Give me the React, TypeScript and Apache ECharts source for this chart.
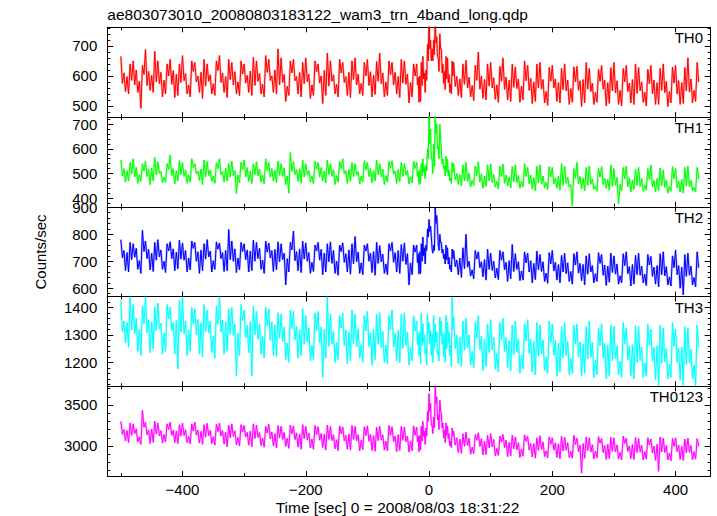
import { useEffect, useRef } from "react";
import * as echarts from "echarts";

// Bin start times (s). 10 s bins, 5 s bins around the burst.
const times = [
  -500, -490, -480, -470, -460, -450, -440, -430, -420, -410,
  -400, -390, -380, -370, -360, -350, -340, -330, -320, -310,
  -300, -290, -280, -270, -260, -250, -240, -230, -220, -210,
  -200, -190, -180, -170, -160, -150, -140, -130, -120, -110,
  -100, -90, -80, -70, -60, -50, -40, -30,
  -20, -15, -10, -5, 0, 5, 10, 15, 20, 25, 30, 35,
  40, 50, 60, 70, 80, 90, 100, 110, 120, 130,
  140, 150, 160, 170, 180, 190, 200, 210, 220, 230,
  240, 250, 260, 270, 280, 290, 300, 310, 320, 330,
  340, 350, 360, 370, 380, 390, 400, 410, 420, 430,
];

// Per-bin values of each light curve (counts/sec):
// Hi / Lo = extremes reached in the bin, Up / Dn = upper and lower edge of the dense core.
const th0Hi = [
  665, 640, 650, 635, 688, 682, 650, 640, 655, 640,
  668, 650, 645, 655, 640, 650, 668, 655, 645, 650,
  640, 662, 650, 668, 655, 690, 660, 650, 655, 645,
  660, 650, 640, 676, 650, 655, 645, 650, 660, 645,
  655, 648, 676, 650, 645, 655, 650, 640,
  640, 645, 665, 705, 800, 720, 800, 740, 690, 665, 660, 650,
  645, 640, 652, 635, 680, 640, 645, 632, 660, 640,
  630, 650, 635, 640, 645, 628, 635, 625, 640, 630,
  632, 645, 625, 622, 635, 628, 645, 625, 635, 640,
  628, 622, 635, 625, 640, 630, 635, 628, 660, 645,
];
const th0Lo = [
  548, 540, 545, 492, 552, 545, 530, 540, 528, 535,
  540, 530, 545, 525, 540, 535, 545, 528, 540, 535,
  545, 535, 540, 530, 545, 540, 515, 535, 540, 530,
  525, 535, 508, 535, 540, 530, 535, 528, 540, 535,
  530, 538, 530, 535, 540, 528, 510, 530,
  512, 515, 545, 585, 650, 650, 665, 615, 575, 555, 545, 540,
  535, 528, 530, 518, 525, 520, 522, 512, 520, 515,
  512, 520, 508, 515, 510, 502, 515, 510, 505, 512,
  498, 510, 505, 512, 500, 508, 505, 500, 510, 505,
  512, 500, 505, 505, 498, 510, 505, 508, 510, 515,
];
const th0Up = [
  610, 598, 620, 605, 615, 602, 612, 600, 618, 606,
  608, 615, 600, 612, 604, 618, 610, 598, 614, 606,
  602, 616, 608, 612, 600, 620, 605, 610, 598, 612,
  606, 614, 600, 618, 604, 610, 598, 612, 606, 600,
  614, 602, 610, 604, 612, 598, 606, 600,
  595, 600, 610, 650, 720, 690, 730, 690, 640, 615, 605, 600,
  598, 590, 596, 585, 600, 588, 594, 582, 596, 586,
  590, 584, 592, 580, 588, 582, 590, 578, 586, 580,
  584, 588, 576, 582, 586, 578, 584, 580, 576, 588,
  580, 574, 586, 578, 582, 576, 584, 578, 590, 580,
];
const th0Dn = [
  575, 585, 570, 582, 568, 580, 574, 586, 572, 578,
  584, 570, 580, 566, 582, 574, 578, 588, 570, 580,
  576, 568, 582, 572, 585, 570, 578, 566, 584, 574,
  580, 570, 576, 566, 582, 572, 578, 588, 570, 575,
  568, 582, 574, 580, 570, 576, 572, 578,
  570, 568, 590, 620, 690, 670, 710, 660, 610, 590, 578, 572,
  565, 572, 560, 568, 556, 566, 560, 570, 555, 562,
  558, 566, 552, 560, 556, 548, 560, 554, 550, 558,
  552, 556, 548, 545, 556, 550, 544, 552, 548, 542,
  550, 546, 540, 552, 544, 548, 540, 550, 546, 552,
];

const th1Hi = [
  555, 545, 560, 540, 550, 565, 548, 540, 575, 552,
  545, 560, 540, 555, 548, 545, 560, 540, 550, 545,
  555, 540, 548, 560, 545, 550, 540, 585, 548, 555,
  540, 550, 545, 555, 540, 548, 560, 545, 540, 552,
  545, 555, 540, 548, 552, 545, 540, 550,
  545, 540, 560, 600, 740, 620, 745, 700, 600, 570, 560, 545,
  540, 535, 545, 530, 548, 535, 540, 530, 538, 528,
  535, 540, 525, 530, 535, 528, 525, 540, 530, 520,
  545, 525, 530, 520, 528, 535, 520, 525, 530, 518,
  525, 520, 535, 522, 515, 528, 520, 525, 530, 525,
];
const th1Lo = [
  465, 470, 460, 468, 455, 470, 462, 465, 458, 470,
  460, 465, 472, 455, 468, 460, 465, 470, 418, 462,
  468, 460, 465, 458, 470, 462, 455, 420, 468, 460,
  465, 458, 470, 462, 455, 465, 460, 468, 458, 465,
  462, 470, 455, 465, 460, 468, 458, 462,
  455, 460, 480, 510, 560, 500, 600, 560, 520, 490, 470, 460,
  455, 450, 445, 452, 440, 448, 445, 438, 450, 442,
  440, 445, 438, 430, 442, 435, 440, 432, 445, 370,
  438, 430, 435, 428, 440, 432, 378, 430, 425, 435,
  428, 432, 425, 430, 420, 428, 425, 420, 430, 425,
];
const th1Up = [
  520, 512, 525, 510, 518, 522, 508, 516, 520, 512,
  515, 524, 510, 518, 514, 520, 508, 522, 512, 516,
  524, 510, 518, 512, 520, 514, 522, 508, 516, 520,
  512, 518, 524, 510, 516, 520, 512, 518, 508, 514,
  520, 512, 518, 522, 510, 516, 512, 520,
  510, 515, 525, 560, 680, 560, 700, 640, 560, 530, 515, 505,
  500, 495, 502, 492, 498, 490, 496, 488, 494, 486,
  492, 488, 494, 484, 490, 486, 482, 490, 484, 480,
  488, 482, 478, 486, 480, 476, 484, 478, 482, 474,
  480, 476, 472, 480, 474, 478, 470, 476, 472, 478,
];
const th1Dn = [
  490, 498, 486, 495, 488, 494, 500, 485, 492, 496,
  488, 494, 498, 486, 492, 490, 496, 485, 490, 494,
  486, 496, 490, 494, 485, 492, 488, 490, 496, 486,
  494, 490, 485, 496, 488, 492, 498, 486, 494, 490,
  488, 495, 486, 492, 498, 488, 494, 486,
  488, 490, 505, 535, 620, 530, 660, 610, 540, 505, 490, 482,
  475, 470, 468, 472, 465, 470, 462, 468, 460, 466,
  462, 468, 458, 462, 456, 464, 458, 452, 460, 455,
  458, 452, 456, 450, 455, 448, 452, 456, 446, 452,
  448, 454, 445, 450, 444, 448, 442, 450, 446, 444,
];

const th2Hi = [
  780, 770, 765, 815, 775, 770, 780, 765, 772, 778,
  768, 775, 770, 765, 780, 772, 768, 818, 775, 770,
  765, 778, 770, 775, 768, 772, 765, 770, 812, 775,
  768, 760, 770, 765, 772, 760, 768, 765, 792, 760,
  765, 770, 758, 765, 770, 762, 768, 760,
  760, 765, 790, 820, 855, 760, 898, 800, 770, 760, 750, 745,
  740, 750, 800, 740, 735, 745, 730, 740, 735, 762,
  728, 735, 730, 738, 725, 732, 740, 722, 730, 728,
  735, 720, 728, 732, 725, 730, 720, 728, 735, 722,
  730, 725, 718, 728, 735, 720, 742, 725, 730, 735,
];
const th2Lo = [
  665, 660, 670, 655, 668, 662, 670, 658, 665, 672,
  660, 668, 655, 665, 660, 670, 662, 665, 658, 668,
  660, 665, 670, 655, 662, 668, 612, 660, 665, 658,
  655, 662, 650, 660, 655, 648, 660, 652, 655, 650,
  658, 648, 655, 650, 660, 655, 612, 650,
  652, 655, 690, 740, 790, 730, 820, 740, 710, 690, 670, 660,
  650, 640, 645, 635, 642, 630, 638, 632, 625, 635,
  628, 630, 620, 632, 625, 618, 630, 620, 625, 615,
  628, 612, 620, 625, 610, 622, 615, 620, 608, 615,
  620, 610, 615, 605, 612, 608, 600, 575, 612, 605,
];
const th2Up = [
  740, 732, 748, 736, 744, 730, 742, 738, 746, 734,
  740, 748, 735, 742, 738, 745, 732, 740, 746, 736,
  742, 738, 748, 734, 740, 744, 730, 742, 736, 746,
  732, 738, 744, 730, 740, 736, 728, 742, 734, 738,
  730, 736, 726, 738, 732, 740, 728, 734,
  728, 735, 750, 790, 830, 745, 870, 770, 745, 725, 715, 710,
  705, 712, 700, 708, 698, 706, 700, 704, 696, 702,
  698, 694, 702, 692, 698, 690, 696, 688, 694, 686,
  692, 688, 684, 692, 686, 682, 690, 684, 680, 688,
  682, 686, 678, 684, 680, 676, 684, 678, 682, 676,
];
const th2Dn = [
  712, 706, 715, 702, 710, 704, 716, 700, 710, 708,
  704, 712, 700, 708, 716, 702, 710, 706, 700, 712,
  706, 700, 710, 704, 712, 698, 706, 710, 702, 708,
  700, 696, 704, 698, 692, 700, 696, 690, 698, 694,
  700, 692, 698, 690, 696, 700, 688, 694,
  695, 700, 720, 760, 810, 740, 840, 760, 730, 705, 690, 685,
  680, 672, 678, 668, 676, 670, 666, 674, 668, 662,
  670, 664, 660, 668, 662, 656, 664, 660, 654, 662,
  656, 652, 660, 654, 648, 658, 652, 646, 654, 650,
  648, 652, 644, 650, 646, 642, 650, 644, 648, 640,
];

const th3Hi = [
  1425, 1438, 1410, 1405, 1438, 1400, 1415, 1410, 1400, 1425,
  1438, 1400, 1395, 1410, 1390, 1405, 1438, 1395, 1400, 1410,
  1390, 1405, 1385, 1400, 1395, 1380, 1375, 1390, 1385, 1395,
  1370, 1380, 1385, 1438, 1375, 1370, 1380, 1390, 1375, 1370,
  1385, 1375, 1380, 1370, 1390, 1375, 1380, 1370,
  1350, 1380, 1340, 1375, 1345, 1370, 1340, 1365, 1350, 1370, 1345, 1437,
  1365, 1350, 1360, 1345, 1370, 1340, 1355, 1345, 1360, 1335,
  1350, 1340, 1355, 1345, 1335, 1350, 1340, 1330, 1345, 1335,
  1340, 1330, 1350, 1325, 1340, 1335, 1330, 1345, 1325, 1335,
  1330, 1340, 1320, 1335, 1325, 1345, 1320, 1330, 1325, 1335,
];
const th3Lo = [
  1270, 1255, 1240, 1225, 1235, 1250, 1230, 1240, 1230, 1176,
  1225, 1240, 1230, 1220, 1235, 1215, 1230, 1240, 1150, 1225,
  1235, 1150, 1230, 1215, 1225, 1220, 1210, 1200, 1215, 1225,
  1205, 1210, 1145, 1215, 1200, 1210, 1195, 1205, 1215, 1200,
  1190, 1210, 1200, 1195, 1205, 1200, 1190, 1205,
  1225, 1195, 1230, 1190, 1225, 1200, 1230, 1205, 1220, 1200, 1225, 1185,
  1195, 1185, 1190, 1180, 1170, 1185, 1175, 1165, 1180, 1170,
  1160, 1175, 1165, 1155, 1170, 1160, 1150, 1165, 1155, 1160,
  1150, 1160, 1145, 1155, 1140, 1150, 1155, 1145, 1150, 1140,
  1145, 1150, 1135, 1116, 1140, 1145, 1135, 1116, 1140, 1116,
];
const th3Up = [
  1350, 1345, 1360, 1340, 1355, 1348, 1342, 1358, 1345, 1352,
  1350, 1340, 1356, 1344, 1350, 1338, 1354, 1346, 1340, 1352,
  1335, 1348, 1340, 1332, 1346, 1336, 1328, 1322, 1330, 1318,
  1325, 1316, 1328, 1320, 1312, 1324, 1318, 1310, 1322, 1314,
  1308, 1320, 1312, 1318, 1306, 1316, 1310, 1314,
  1305, 1312, 1300, 1308, 1316, 1302, 1310, 1298, 1306, 1300, 1310, 1320,
  1298, 1292, 1300, 1288, 1295, 1285, 1292, 1282, 1290, 1280,
  1286, 1278, 1284, 1276, 1282, 1272, 1280, 1270, 1276, 1268,
  1274, 1266, 1272, 1262, 1270, 1264, 1260, 1268, 1258, 1264,
  1256, 1262, 1254, 1260, 1250, 1258, 1252, 1256, 1248, 1254,
];
const th3Dn = [
  1312, 1318, 1305, 1320, 1308, 1315, 1322, 1306, 1316, 1310,
  1304, 1318, 1300, 1312, 1306, 1296, 1310, 1302, 1298, 1306,
  1290, 1300, 1284, 1294, 1280, 1288, 1276, 1270, 1282, 1266,
  1274, 1262, 1270, 1258, 1266, 1272, 1260, 1268, 1256, 1264,
  1258, 1266, 1254, 1262, 1256, 1250, 1260, 1254,
  1265, 1260, 1270, 1256, 1268, 1250, 1272, 1246, 1266, 1250, 1270, 1262,
  1250, 1244, 1252, 1240, 1246, 1236, 1244, 1232, 1240, 1228,
  1236, 1226, 1232, 1222, 1230, 1220, 1226, 1216, 1224, 1214,
  1220, 1212, 1218, 1208, 1216, 1206, 1212, 1204, 1210, 1200,
  1206, 1198, 1204, 1196, 1202, 1194, 1200, 1192, 1198, 1190,
];

const th0123Hi = [
  3300, 3280, 3270, 3436, 3290, 3300, 3280, 3270, 3290, 3260,
  3280, 3270, 3290, 3260, 3275, 3265, 3280, 3255, 3270, 3260,
  3250, 3270, 3255, 3240, 3265, 3250, 3240, 3255, 3245, 3260,
  3240, 3250, 3235, 3255, 3240, 3245, 3230, 3250, 3240, 3235,
  3245, 3230, 3240, 3250, 3235, 3240, 3230, 3245,
  3230, 3240, 3300, 3420, 3640, 3350, 3720, 3560, 3380, 3280, 3240, 3220,
  3180, 3150, 3170, 3140, 3160, 3130, 3150, 3120, 3140, 3130,
  3110, 3135, 3120, 3100, 3125, 3110, 3100, 3120, 3105, 3130,
  3095, 3110, 3100, 3115, 3090, 3105, 3100, 3120, 3095, 3105,
  3090, 3100, 3085, 3110, 3095, 3090, 3100, 3085, 3095, 3090,
];
const th0123Lo = [
  3060, 3040, 3050, 3020, 3030, 3045, 3035, 3050, 3040, 3030,
  3040, 3025, 3035, 3020, 3030, 3010, 3025, 2990, 3015, 3000,
  3010, 2990, 3005, 2985, 3000, 2975, 2995, 2970, 2985, 2960,
  2975, 2960, 2980, 2950, 2965, 2945, 2960, 2950, 2940, 2955,
  2945, 2935, 2950, 2940, 2930, 2945, 2925, 2940,
  2930, 2950, 3020, 3120, 3250, 3150, 3320, 3200, 3100, 3040, 3000, 2980,
  2920, 2910, 2900, 2905, 2890, 2895, 2880, 2885, 2870, 2880,
  2860, 2875, 2865, 2850, 2870, 2855, 2860, 2845, 2860, 2850,
  2668, 2850, 2840, 2855, 2835, 2845, 2840, 2830, 2845, 2835,
  2830, 2840, 2825, 2690, 2830, 2820, 2835, 2825, 2830, 2840,
];
const th0123Up = [
  3200, 3190, 3210, 3230, 3195, 3205, 3188, 3200, 3192, 3185,
  3198, 3182, 3194, 3178, 3190, 3176, 3188, 3170, 3184, 3172,
  3166, 3180, 3162, 3158, 3172, 3150, 3164, 3148, 3160, 3145,
  3156, 3140, 3152, 3144, 3136, 3150, 3130, 3146, 3138, 3128,
  3142, 3125, 3136, 3130, 3122, 3138, 3120, 3132,
  3120, 3130, 3180, 3300, 3520, 3260, 3600, 3440, 3280, 3190, 3150, 3120,
  3100, 3085, 3095, 3070, 3088, 3060, 3078, 3050, 3070, 3045,
  3040, 3058, 3030, 3028, 3050, 3020, 3035, 3025, 3040, 3018,
  3010, 3030, 3015, 3035, 3005, 3020, 3012, 3030, 3000, 3018,
  3008, 3015, 2998, 3020, 3005, 2995, 3010, 2995, 3005, 2998,
];
const th0123Dn = [
  3140, 3130, 3150, 3110, 3135, 3145, 3125, 3140, 3130, 3120,
  3128, 3115, 3132, 3108, 3124, 3112, 3120, 3100, 3116, 3105,
  3110, 3090, 3104, 3095, 3086, 3100, 3080, 3094, 3078, 3090,
  3072, 3085, 3070, 3080, 3066, 3075, 3062, 3078, 3064, 3070,
  3058, 3066, 3072, 3060, 3054, 3068, 3050, 3062,
  3050, 3060, 3120, 3220, 3420, 3220, 3520, 3380, 3220, 3130, 3090, 3060,
  3010, 2995, 3002, 2985, 2996, 2978, 2990, 2970, 2982, 2965,
  2955, 2962, 2950, 2945, 2958, 2940, 2950, 2938, 2948, 2935,
  2930, 2944, 2925, 2938, 2920, 2935, 2928, 2922, 2934, 2918,
  2926, 2932, 2915, 2928, 2920, 2912, 2930, 2915, 2922, 2930,
];

// Axis ticks / labels
const xMajorTicks = [-400, -200, 0, 200, 400];
const xMinorTicks = [-500, -300, -100, 100, 300];
const th0Ticks = [500, 600, 700];
const th1Ticks = [400, 500, 600, 700];
const th2Ticks = [600, 700, 800, 900];
const th3Ticks = [1200, 1300, 1400];
const th0123Ticks = [3000, 3500];

const panelNames = ["TH0", "TH1", "TH2", "TH3", "TH0123"];
const panelColors = ["#ff0000", "#00ff00", "#0000ff", "#00ffff", "#ff00ff"];

const titleText = "ae803073010_20080803183122_wam3_trn_4band_long.qdp";
const xLabelText = "Time [sec] 0 = 2008/08/03 18:31:22";
const yLabelText = "Counts/sec";

const FONT = "'Liberation Sans', Arial, Helvetica, sans-serif";
const X_MIN = -522;
const X_MAX = 457;
const GRID_LEFT = 107.3;
const GRID_WIDTH = 603.4;
const GRID_TOP = 27.3;
const GRID_H = 89.75;

const panels = [
  { hi: th0Hi, lo: th0Lo, up: th0Up, dn: th0Dn, min: 463, max: 762, major: th0Ticks, minorStep: 20 },
  { hi: th1Hi, lo: th1Lo, up: th1Up, dn: th1Dn, min: 365, max: 729, major: th1Ticks, minorStep: 20 },
  { hi: th2Hi, lo: th2Lo, up: th2Up, dn: th2Dn, min: 569, max: 902, major: th2Ticks, minorStep: 20 },
  { hi: th3Hi, lo: th3Lo, up: th3Up, dn: th3Dn, min: 1113, max: 1439, major: th3Ticks, minorStep: 20 },
  { hi: th0123Hi, lo: th0123Lo, up: th0123Up, dn: th0123Dn, min: 2633, max: 3728, major: th0123Ticks, minorStep: 100 },
];

function minorValues(min: number, max: number, step: number, major: number[]) {
  const out: number[] = [];
  for (let v = Math.ceil(min / step) * step; v <= max; v += step) {
    if (!major.includes(v)) out.push(v);
  }
  return out;
}

function fmtX(v: number) {
  return v < 0 ? "\u2212" + Math.abs(v) : String(v);
}

export default function App() {
  const ref = useRef<HTMLDivElement>(null);
  useEffect(() => {
    document.body.style.margin = "0";
    const chart = echarts.init(ref.current!, null, { renderer: "svg" });

    const grids: any[] = [];
    const xAxes: any[] = [];
    const yAxes: any[] = [];
    const series: any[] = [];
    const graphics: any[] = [];

    panels.forEach((p, g) => {
      const top = GRID_TOP + g * GRID_H;
      grids.push({ left: GRID_LEFT, width: GRID_WIDTH, top, height: GRID_H, containLabel: false });

      const mkX = (pos: string, ticks: number[], len: number, showLabel: boolean, showLine: boolean) => ({
        type: "value",
        gridIndex: g,
        position: pos,
        min: X_MIN,
        max: X_MAX,
        axisLine: { show: showLine, onZero: false, lineStyle: { color: "#000", width: 1 } },
        axisTick: { show: true, inside: true, length: len, customValues: ticks, lineStyle: { color: "#000", width: 1 } },
        axisLabel: {
          show: showLabel,
          customValues: ticks,
          formatter: fmtX,
          fontSize: 15,
          color: "#000",
          margin: 6,
          fontFamily: FONT,
        },
        splitLine: { show: false },
      });
      xAxes.push(mkX("bottom", xMajorTicks, 5, g === 4, true));
      xAxes.push(mkX("bottom", xMinorTicks, 3, false, false));
      xAxes.push(mkX("top", xMajorTicks, 5, false, true));
      xAxes.push(mkX("top", xMinorTicks, 3, false, false));

      const minors = minorValues(p.min, p.max, p.minorStep, p.major);
      const mkY = (pos: string, ticks: number[], len: number, showLabel: boolean, showLine: boolean) => ({
        type: "value",
        gridIndex: g,
        position: pos,
        min: p.min,
        max: p.max,
        axisLine: { show: showLine, onZero: false, lineStyle: { color: "#000", width: 1 } },
        axisTick: { show: true, inside: true, length: len, customValues: ticks, lineStyle: { color: "#000", width: 1 } },
        axisLabel: {
          show: showLabel,
          customValues: ticks,
          formatter: (v: number) => String(v),
          fontSize: 15,
          color: "#000",
          margin: 10,
          fontFamily: FONT,
        },
        splitLine: { show: false },
      });
      yAxes.push(mkY("left", p.major, 6, true, true));
      yAxes.push(mkY("left", minors, 3, false, false));
      yAxes.push(mkY("right", p.major, 6, false, true));
      yAxes.push(mkY("right", minors, 3, false, false));

      // Four read values per bin, ordered so the trace alternates up/down.
      const pts: number[][] = [];
      for (let i = 0; i < times.length; i++) {
        const w = i < times.length - 1 ? times[i + 1] - times[i] : 10;
        const k4 = i % 4;
        const order = k4 === 0 || k4 === 2
          ? [p.hi[i], p.dn[i], p.up[i], p.lo[i]]
          : k4 === 1
            ? [p.up[i], p.lo[i], p.hi[i], p.dn[i]]
            : [p.dn[i], p.lo[i], p.hi[i], p.up[i]];
        order.forEach((v, k) => pts.push([times[i] + (k * w) / 4, v]));
      }
      // soft halo (error-bar look) under the main trace
      series.push({
        type: "line",
        xAxisIndex: g * 4,
        yAxisIndex: g * 4,
        data: pts,
        showSymbol: false,
        symbol: "none",
        clip: true,
        silent: true,
        lineStyle: { color: panelColors[g], width: 2.2, opacity: 0.3 },
      });
      series.push({
        type: "line",
        xAxisIndex: g * 4,
        yAxisIndex: g * 4,
        data: pts,
        showSymbol: false,
        symbol: "none",
        clip: true,
        lineStyle: { color: panelColors[g], width: 1 },
        itemStyle: { color: panelColors[g] },
      });

      graphics.push({
        type: "text",
        right: 717 - 703,
        top: top + 3,
        style: { text: panelNames[g], fontSize: 15, fill: "#000", fontFamily: FONT },
      });
    });

    graphics.push({
      type: "text",
      left: GRID_LEFT,
      top: 6,
      style: { text: titleText, fontSize: 15.5, fill: "#000", fontFamily: FONT },
    });
    graphics.push({
      type: "text",
      x: 397.5,
      y: 507.5,
      style: {
        text: xLabelText,
        fontSize: 15.5,
        fill: "#000",
        fontFamily: FONT,
        align: "center",
        verticalAlign: "middle",
      },
    });
    graphics.push({
      type: "text",
      x: 40,
      y: 252,
      rotation: Math.PI / 2,
      style: {
        text: yLabelText,
        fontSize: 15,
        fill: "#000",
        fontFamily: FONT,
        align: "center",
        verticalAlign: "middle",
      },
    });

    chart.setOption({
      animation: false,
      backgroundColor: "#fff",
      grid: grids,
      xAxis: xAxes,
      yAxis: yAxes,
      series,
      graphic: graphics,
    });
    return () => chart.dispose();
  }, []);
  return <div ref={ref} style={{ position: "absolute", left: 0, top: 0, width: 717, height: 516 }} />;
}
